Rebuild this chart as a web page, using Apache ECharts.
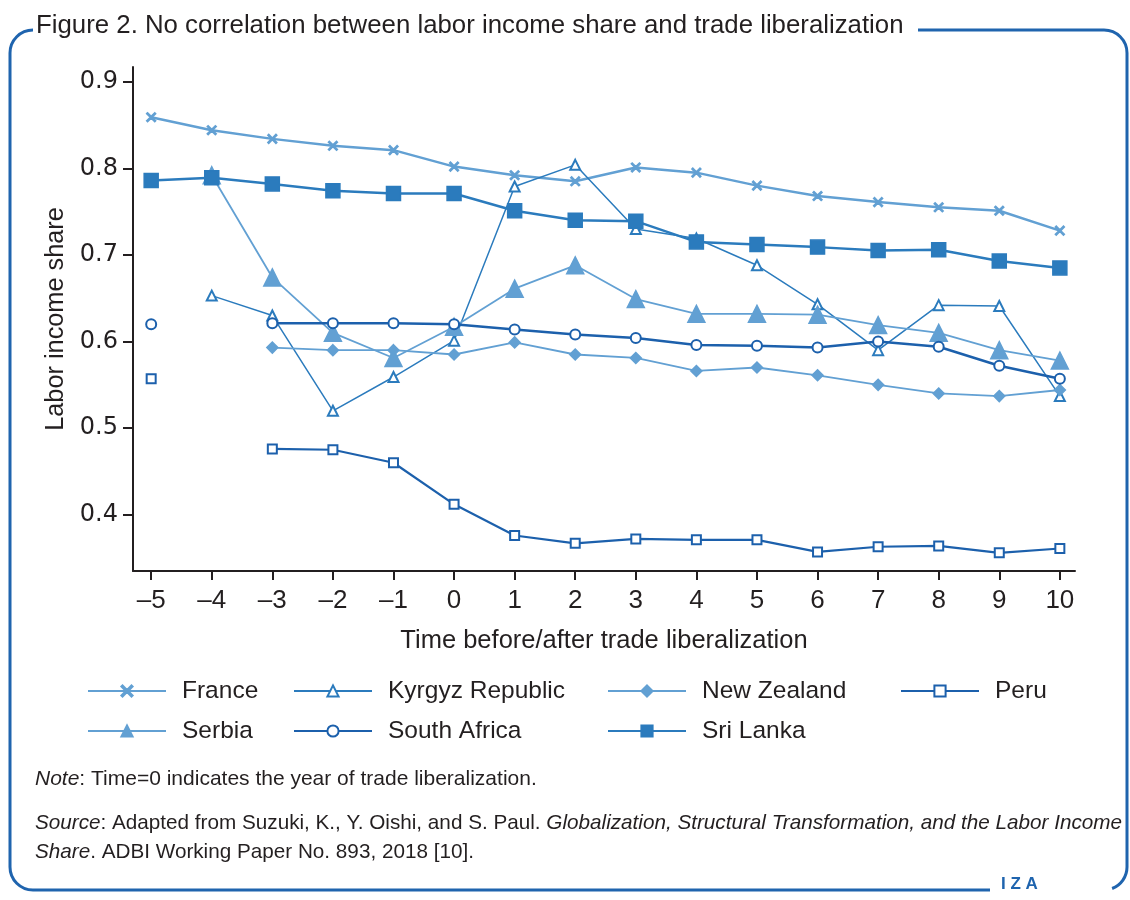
<!DOCTYPE html>
<html>
<head>
<meta charset="utf-8">
<script src="https://cdn.jsdelivr.net/npm/echarts@6/dist/echarts.min.js"></script>
<style>
  html, body { margin: 0; padding: 0; background: #fff; }
  #main { width: 1130px; height: 900px; }
</style>
</head>
<body>
<div id="main"></div>
<script>
// years before/after liberalization
var years = [-5, -4, -3, -2, -1, 0, 1, 2, 3, 4, 5, 6, 7, 8, 9, 10];
var yTicks = [0.4, 0.5, 0.6, 0.7, 0.8, 0.9];

var france      = [0.859, 0.844, 0.834, 0.826, 0.821, 0.802, 0.792, 0.785, 0.801, 0.795, 0.780, 0.768, 0.761, 0.755, 0.751, 0.728];
var kyrgyz      = [null, 0.653, 0.630, 0.520, 0.559, 0.601, 0.779, 0.804, 0.730, 0.719, 0.688, 0.643, 0.590, 0.642, 0.641, 0.537];
var newZealand  = [null, null, 0.593, 0.590, 0.590, 0.585, 0.599, 0.585, 0.581, 0.566, 0.570, 0.561, 0.550, 0.540, 0.537, 0.544];
var peru        = [0.557, null, 0.476, 0.475, 0.460, 0.412, 0.376, 0.367, 0.372, 0.371, 0.371, 0.357, 0.363, 0.364, 0.356, 0.361];
var serbia      = [null, 0.792, 0.674, 0.610, 0.581, 0.617, 0.661, 0.688, 0.649, 0.632, 0.632, 0.631, 0.619, 0.610, 0.590, 0.578];
var southAfrica = [0.620, null, 0.621, 0.621, 0.621, 0.620, 0.614, 0.608, 0.604, 0.596, 0.595, 0.593, 0.600, 0.594, 0.572, 0.557];
var sriLanka    = [0.786, 0.789, 0.782, 0.774, 0.771, 0.771, 0.751, 0.740, 0.739, 0.715, 0.712, 0.709, 0.705, 0.706, 0.693, 0.685];

var LIGHT = '#62a0d3';
var MID = '#2b7bbd';
var DARK = '#1c60ac';
var INK = '#231f20';
var FRAME = '#1f64ae';
var SANS = '"Liberation Sans", Arial, sans-serif';

var crossPath = 'path://M0,1L1,0L5,4L9,0L10,1L6,5L10,9L9,10L5,6L1,10L0,9L4,5Z';

function pairs(vals) {
  return years.map(function (x, i) { return [x, vals[i]]; });
}

function line(name, vals, color, width, symbol, size) {
  return {
    name: name,
    type: 'line',
    data: pairs(vals),
    symbol: symbol,
    symbolSize: size,
    showAllSymbol: true,
    connectNulls: false,
    lineStyle: { color: color, width: width },
    itemStyle: { color: color, borderColor: color, borderWidth: 1.5 },
    emphasis: { disabled: true }
  };
}

var myChart = echarts.init(document.getElementById('main'));

// one legend box per entry so they sit on the same grid as the original
function legendItem(name, left, top) {
  return {
    data: [name],
    left: left,
    top: top,
    padding: 0,
    itemWidth: 78,
    itemHeight: 14,
    selectedMode: false,
    textStyle: { fontFamily: SANS, fontSize: 24.5, color: INK, lineHeight: 30, padding: [0, 0, 0, 11] }
  };
}

var option = {
  animation: false,
  backgroundColor: '#fff',
  title: [
    {
      text: 'Figure 2. No correlation between labor income share and trade liberalization',
      left: 36, top: 13, padding: 0,
      textStyle: { fontFamily: SANS, fontSize: 25.8, fontWeight: 'normal', color: INK }
    },
    {
      text: '{i|Note}: Time=0 indicates the year of trade liberalization.',
      left: 35, top: 769, padding: 0,
      textStyle: {
        fontFamily: SANS, fontSize: 21, fontWeight: 'normal', color: INK,
        rich: { i: { fontFamily: SANS, fontSize: 21, fontStyle: 'italic', color: INK } }
      }
    },
    {
      text: '{i|Source}: Adapted from Suzuki, K., Y. Oishi, and S. Paul. {i|Globalization, Structural Transformation, and the Labor Income}\n{i|Share}. ADBI Working Paper No. 893, 2018 [10].',
      left: 35, top: 809, padding: 0,
      textStyle: {
        fontFamily: SANS, fontSize: 20.7, fontWeight: 'normal', color: INK, lineHeight: 29,
        rich: { i: { fontFamily: SANS, fontSize: 20.7, fontStyle: 'italic', color: INK, lineHeight: 29 } }
      }
    }
  ],
  legend: [
    legendItem('France', 87, 676),
    legendItem('Kyrgyz Republic', 293, 676),
    legendItem('New Zealand', 607, 676),
    legendItem('Peru', 900, 676),
    legendItem('Serbia', 87, 716),
    legendItem('South Africa', 293, 716),
    legendItem('Sri Lanka', 607, 716)
  ],
  grid: { left: 133, right: 55, top: 67, bottom: 329, containLabel: false },
  xAxis: {
    type: 'value',
    min: -5.3,
    max: 10.25,
    name: 'Time before/after trade liberalization',
    nameLocation: 'middle',
    nameGap: 57,
    nameTextStyle: { fontFamily: SANS, fontSize: 25.5, color: INK },
    axisLine: { show: true, onZero: false, lineStyle: { color: INK, width: 2 } },
    axisTick: { show: true, length: 9, customValues: years, lineStyle: { color: INK, width: 2 } },
    axisLabel: {
      customValues: years,
      margin: 17,
      fontFamily: SANS, fontSize: 26, color: INK,
      formatter: function (v) { return String(v).replace('-', '\u2013'); }
    },
    splitLine: { show: false }
  },
  yAxis: {
    type: 'value',
    min: 0.335,
    max: 0.917,
    name: 'Labor income share',
    nameLocation: 'middle',
    nameRotate: 90,
    nameGap: 62,
    nameTextStyle: { fontFamily: SANS, fontSize: 25.3, color: INK },
    axisLine: { show: true, onZero: false, lineStyle: { color: INK, width: 2 } },
    axisTick: { show: true, length: 10, customValues: yTicks, lineStyle: { color: INK, width: 2 } },
    axisLabel: {
      customValues: yTicks,
      margin: 15,
      fontFamily: '"DejaVu Sans", sans-serif', fontSize: 24, color: INK,
      formatter: function (v) { return v.toFixed(1); }
    },
    splitLine: { show: false }
  },
  series: [
    line('France', france, LIGHT, 2.5, crossPath, 9),
    line('Kyrgyz Republic', kyrgyz, MID, 1.5, 'emptyTriangle', 10),
    line('New Zealand', newZealand, LIGHT, 1.8, 'diamond', 11),
    line('Peru', peru, DARK, 2.2, 'emptyRect', 9),
    line('Serbia', serbia, LIGHT, 1.8, 'triangle', 17),
    line('South Africa', southAfrica, DARK, 2.5, 'emptyCircle', 10),
    line('Sri Lanka', sriLanka, MID, 2.5, 'rect', 14)
  ],
  graphic: [
    { type: 'line', shape: { x1: 10, y1: 53, x2: 10, y2: 867 }, style: { stroke: FRAME, lineWidth: 3 } },
    { type: 'arc', shape: { cx: 33, cy: 53, r: 23, startAngle: Math.PI, endAngle: Math.PI * 1.5 }, style: { stroke: FRAME, lineWidth: 3, fill: null } },
    { type: 'line', shape: { x1: 918, y1: 30, x2: 1104, y2: 30 }, style: { stroke: FRAME, lineWidth: 3 } },
    { type: 'arc', shape: { cx: 1104, cy: 53, r: 23, startAngle: Math.PI * 1.5, endAngle: Math.PI * 2 }, style: { stroke: FRAME, lineWidth: 3, fill: null } },
    { type: 'line', shape: { x1: 1127, y1: 53, x2: 1127, y2: 867 }, style: { stroke: FRAME, lineWidth: 3 } },
    { type: 'arc', shape: { cx: 1104, cy: 867, r: 23, startAngle: 0, endAngle: Math.PI * 0.385 }, style: { stroke: FRAME, lineWidth: 3, fill: null } },
    { type: 'arc', shape: { cx: 33, cy: 867, r: 23, startAngle: Math.PI * 0.5, endAngle: Math.PI }, style: { stroke: FRAME, lineWidth: 3, fill: null } },
    { type: 'line', shape: { x1: 33, y1: 890, x2: 990, y2: 890 }, style: { stroke: FRAME, lineWidth: 3 } },
    { type: 'text', left: 1001, top: 876, style: { text: 'I Z A', fontFamily: SANS, fontSize: 17, fontWeight: 'bold', fill: FRAME } }
  ]
};

myChart.setOption(option);
</script>
</body>
</html>
